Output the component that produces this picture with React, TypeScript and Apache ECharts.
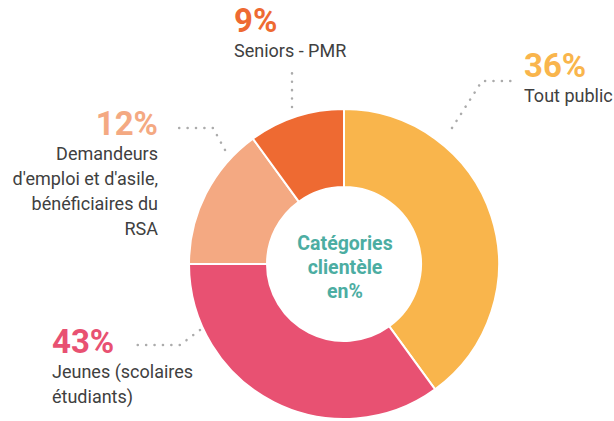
import React, { useEffect, useRef } from "react";
import * as echarts from "echarts";

const categories = ["Tout public", "Jeunes (scolaires\nétudiants)", "Demandeurs\nd'emploi et d'asile,\nbénéficiaires du\nRSA", "Seniors - PMR"];
const sliceShares = [40, 35, 15, 10];
const labelPercents = ["36%", "43%", "12%", "9%"];
const colors = ["#F9B54C", "#E85172", "#F4A982", "#EE6A32"];
const centerTitle = "Catégories\nclientèle\nen%";

const NAME_FONT = "Roboto, sans-serif";
const PCT_FONT = "Roboto, sans-serif";

// label placement (layout only)
const labelPlaces = [
  { x: 524, y: 48, align: "left", line: [[452, 128], [482, 81], [518, 81]] },
  { x: 52, y: 324, align: "left", line: [[200, 330], [180, 345], [132, 345]] },
  { x: 158, y: 106, align: "right", line: [[225, 150], [213, 128], [171, 128]] },
  { x: 234, y: 3, align: "left", line: [[292, 107], [292, 90], [292, 72]] },
];

export default function App() {
  const ref = useRef<HTMLDivElement>(null);
  useEffect(() => {
    document.body.style.margin = "0";
    const chart = echarts.init(ref.current!, null, { renderer: "svg" });
    const data = categories.map((name, i) => ({
      name,
      value: sliceShares[i],
      itemStyle: { color: colors[i] },
      label: {
        align: labelPlaces[i].align,
        rich: {
          p: { fontFamily: PCT_FONT, fontSize: 33, fontWeight: "bold", color: colors[i], lineHeight: 35, align: labelPlaces[i].align },
          n: { fontFamily: NAME_FONT, fontSize: 18, color: "#404040", lineHeight: 25, align: labelPlaces[i].align },
        },
      },
    }));
    chart.setOption({
      animation: false,
      graphic: [
        {
          type: "text",
          x: 345,
          y: 267,
          style: {
            text: centerTitle,
            fill: "#4CADA2",
            font: `bold 19.5px ${NAME_FONT}`,
            lineHeight: 24,
            align: "center",
            verticalAlign: "middle",
          },
          z: 100,
        },
      ],
      series: [
        {
          type: "pie",
          center: [344, 264],
          radius: [77, 155],
          startAngle: 90,
          clockwise: true,
          itemStyle: { borderColor: "#fff", borderWidth: 2 },
          emphasis: { disabled: true },
          label: {
            show: true,
            position: "outside",
            overflow: "none",
            formatter: (p: any) => {
              const i = p.dataIndex;
              const nameLines = categories[i].split("\n").map((l) => `{n|${l}}`).join("\n");
              return `{p|${labelPercents[i]}}\n${nameLines}`;
            },
          },
          labelLine: {
            show: true,
            lineStyle: { color: "#ABABAB", width: 2.5, type: [0.1, 8.3], cap: "round" },
          },
          labelLayout: (params: any) => {
            const pl = labelPlaces[params.dataIndex];
            return {
              x: pl.x,
              y: pl.y,
              align: pl.align,
              verticalAlign: "top",
              labelLinePoints: pl.line,
            };
          },
          data,
        },
      ],
    });
    return () => chart.dispose();
  }, []);
  return <div ref={ref} style={{ width: 614, height: 421 }} />;
}
